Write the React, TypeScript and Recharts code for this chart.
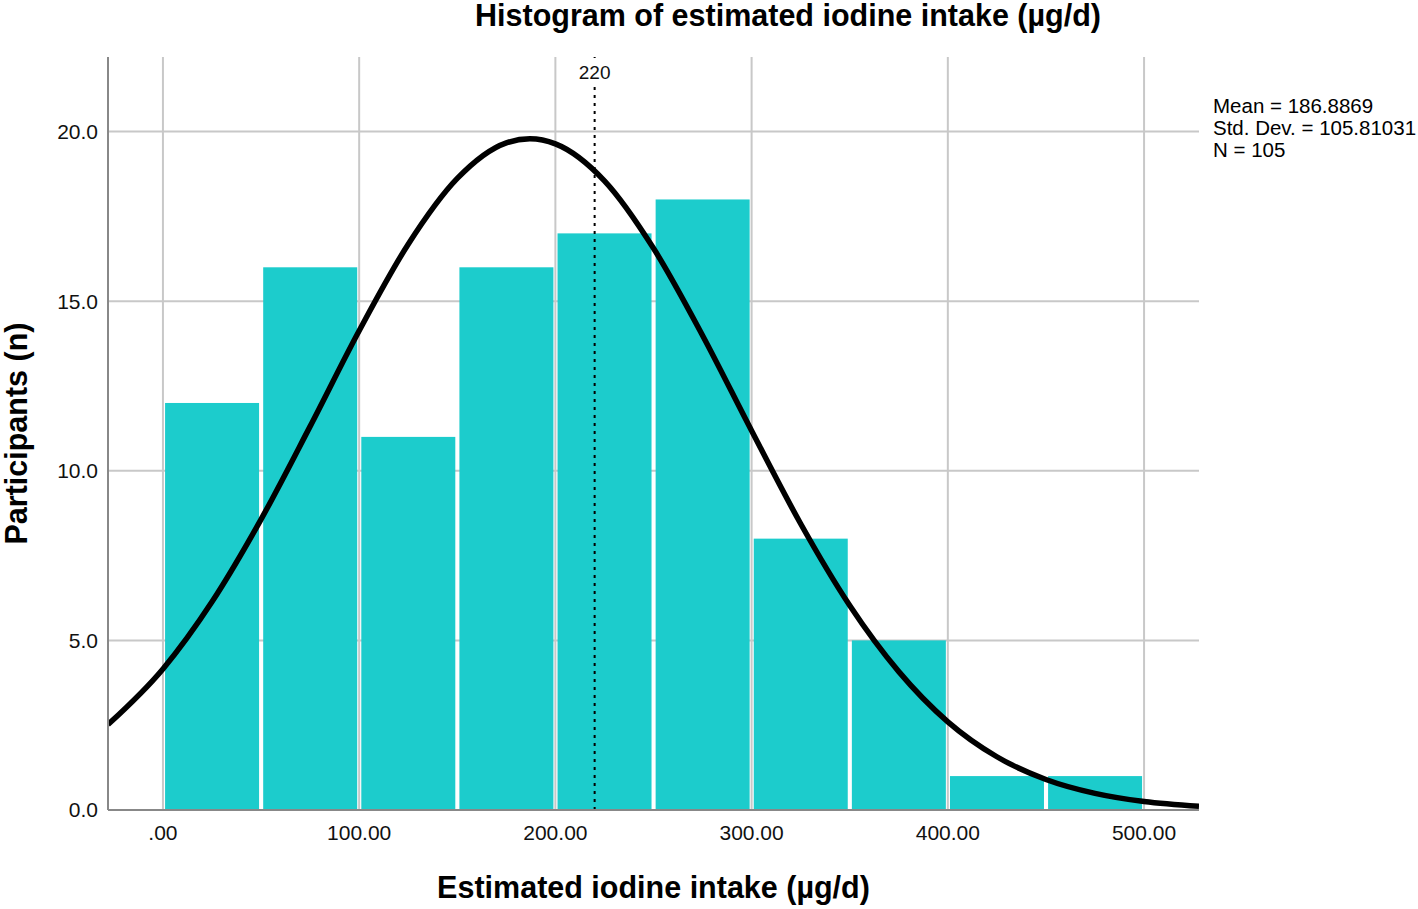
import { ComposedChart, Bar, Line, XAxis, YAxis, CartesianGrid, ReferenceLine, Label } from 'recharts';

// bin midpoints (µg/d) and counts per 50 µg/d bin
const binMids = [25, 75, 125, 175, 225, 275, 325, 375, 425, 475];
const binCounts = [12, 16, 11, 16, 17, 18, 8, 5, 1, 1];

// normal curve
const curveX = [-28, 0, 25, 50, 75, 100, 125, 150, 175, 187, 200, 225, 250, 275, 300, 325, 350, 375, 400, 425, 450, 475, 500, 528];
const curveY = [2.52, 4.16, 6.14, 8.57, 11.31, 14.13, 16.68, 18.62, 19.67, 19.79, 19.64, 18.55, 16.56, 13.99, 11.18, 8.44, 6.03, 4.08, 2.6, 1.57, 0.9, 0.49, 0.25, 0.11];

const xTicks = [0, 100, 200, 300, 400, 500];
const yTicks = [0, 5, 10, 15, 20];
const cutoff = 220;
const stats = ['Mean = 186.8869', 'Std. Dev. = 105.81031', 'N = 105'];

const data = [
  ...binMids.map((x, i) => ({ x, count: binCounts[i] })),
  ...curveX.map((x, i) => ({ x, curve: curveY[i] })),
].sort((a, b) => a.x - b.x);

const font = '"Liberation Sans", Arial, sans-serif';

const fmtX = (v: number) => (v === 0 ? '.00' : v.toFixed(2));

// bars fill the whole bin, leaving a thin white gap
const HistBar = (p: any) => {
  if (!p.height) return null;
  const cx = p.x + p.width / 2;
  return <rect x={cx - 47} y={p.y} width={94} height={p.height} fill={p.fill} />;
};

const CutoffLabel = (p: any) => {
  const vb = p.viewBox;
  return (
    <g>
      <rect x={vb.x - 18} y={vb.y + 5} width={36} height={20} fill="#fff" />
      <text x={vb.x} y={vb.y + 22} textAnchor="middle" fontSize={19} fill="#111" fontFamily={font}>
        {p.value}
      </text>
    </g>
  );
};

export default function App() {
  return (
    <div style={{ position: 'absolute', left: 0, top: 0, width: 1418, height: 909, background: '#fff', fontFamily: font }}>
      <div style={{ position: 'absolute', left: 0, width: 1576, top: -2, textAlign: 'center', fontSize: 30.5, fontWeight: 'bold', lineHeight: '34px' }}>
        Histogram of estimated iodine intake (µg/d)
      </div>
      <div style={{ position: 'absolute', left: 1213, top: 95, fontSize: 20.5, lineHeight: '22px' }}>
        {stats.map((s) => (
          <div key={s}>{s}</div>
        ))}
      </div>
      <ComposedChart
        width={1418}
        height={909}
        data={data}
        margin={{ top: 57, right: 219, bottom: 0, left: 0 }}
        style={{ fontFamily: font }}
      >
        <CartesianGrid stroke="#c8c8c8" strokeWidth={2} horizontalValues={yTicks} verticalValues={xTicks} />
        <XAxis
          dataKey="x"
          type="number"
          domain={[-28, 528]}
          ticks={xTicks}
          tickFormatter={fmtX}
          allowDataOverflow
          tickLine={false}
          stroke="#888"
          strokeWidth={2}
          tick={{ fill: '#111', fontSize: 21 }}
          tickMargin={9}
          height={99}
        >
          <Label value="Estimated iodine intake (µg/d)" position="insideBottom" offset={11} style={{ fontSize: 30.5, fontWeight: 'bold', fill: '#000' }} />
        </XAxis>
        <YAxis
          type="number"
          domain={[0, 22.2]}
          ticks={yTicks}
          tickFormatter={(v: number) => v.toFixed(1)}
          allowDataOverflow
          tickLine={false}
          stroke="#888"
          strokeWidth={2}
          tick={{ fill: '#111', fontSize: 21 }}
          tickMargin={4}
          width={108}
        >
          <Label value="Participants (n)" angle={-90} position="insideLeft" offset={0} dx={16} style={{ fontSize: 30.5, fontWeight: 'bold', fill: '#000', textAnchor: 'middle' }} />
        </YAxis>
        <Bar dataKey="count" fill="#1ccccc" shape={HistBar} isAnimationActive={false} />
        <ReferenceLine x={cutoff} stroke="#000" strokeWidth={2} strokeDasharray="3 5" label={<CutoffLabel value={String(cutoff)} />} />
        <Line dataKey="curve" type="monotone" stroke="#000" strokeWidth={5.5} dot={false} connectNulls isAnimationActive={false} />
      </ComposedChart>
    </div>
  );
}
